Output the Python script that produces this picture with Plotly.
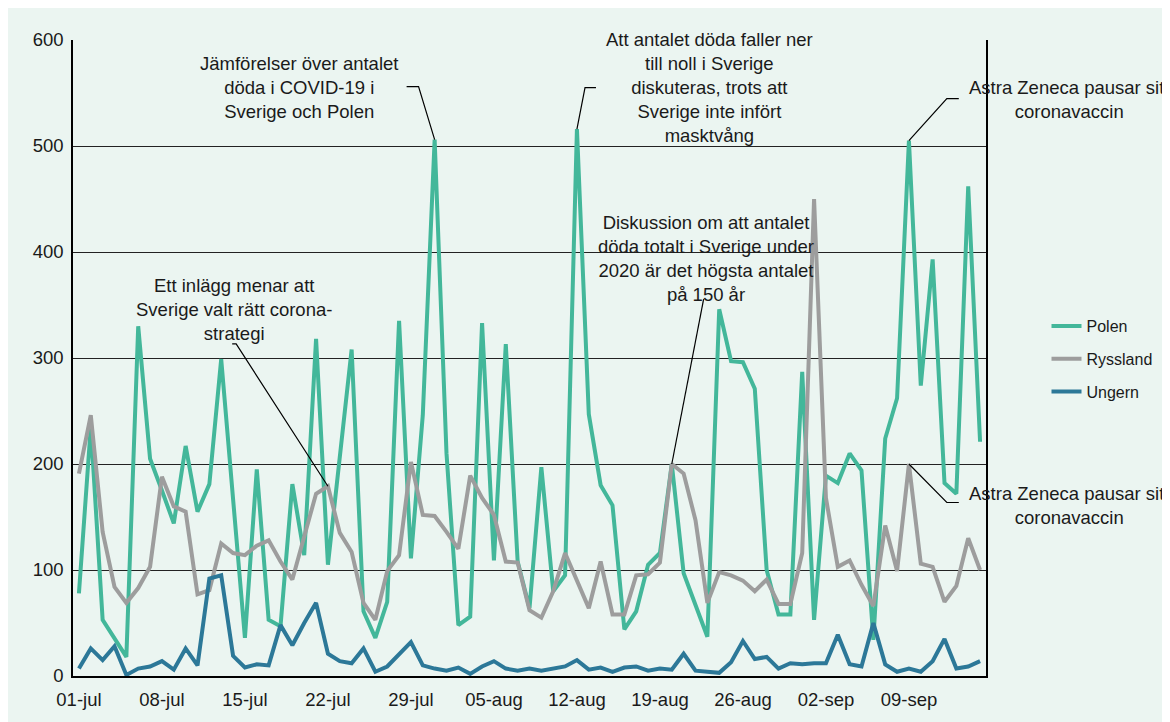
import pandas as pd
import plotly.graph_objects as go

# ---- data ----
dates = pd.date_range("2020-07-01", "2020-09-15", freq="D")
categories = [f"{d.day:02d}-{d.strftime('%b').lower()}" for d in dates]
tick_labels = ["01-jul", "08-jul", "15-jul", "22-jul", "29-jul", "05-aug",
               "12-aug", "19-aug", "26-aug", "02-sep", "09-sep"]
y_ticks = [0, 100, 200, 300, 400, 500, 600]

polen = [78, 235, 53, 36, 18, 330, 205, 175, 144, 217, 155, 181, 299, 167, 36, 195,
         53, 47, 181, 114, 318, 105, 205, 308, 61, 36, 70, 335, 111, 246, 506, 210,
         48, 56, 333, 109, 313, 108, 64, 197, 80, 95, 516, 247, 180, 161, 44, 61,
         105, 116, 200, 97, 67, 37, 346, 297, 296, 271, 100, 58, 58, 287, 53, 189,
         182, 210, 194, 34, 224, 262, 505, 274, 393, 182, 172, 462, 221]
ryssland = [191, 246, 136, 84, 69, 83, 103, 188, 160, 155, 77, 81, 125, 116, 114, 123,
            128, 108, 91, 132, 172, 179, 135, 117, 69, 53, 99, 114, 202, 152, 151, 136,
            120, 189, 168, 152, 108, 107, 62, 55, 80, 116, 91, 64, 108, 58, 58, 95,
            96, 107, 200, 191, 147, 69, 98, 95, 90, 80, 91, 68, 68, 116, 450, 168,
            103, 109, 86, 66, 142, 99, 200, 106, 103, 70, 85, 130, 100]
ungern = [7, 26, 15, 28, 1, 7, 9, 14, 6, 26, 10, 92, 95, 19, 8, 11,
          10, 48, 29, 50, 69, 21, 14, 12, 26, 4, 9, 20, 32, 10, 7, 5,
          8, 2, 9, 14, 7, 5, 7, 5, 7, 9, 15, 6, 8, 4, 8, 9,
          5, 7, 6, 21, 5, 4, 3, 13, 33, 16, 18, 7, 12, 11, 12, 12,
          39, 11, 9, 50, 11, 4, 7, 4, 14, 35, 7, 9, 14]

series = [("Polen", polen, "#43B79A"),
          ("Ryssland", ryssland, "#9D9D9D"),
          ("Ungern", ungern, "#2C7898")]

# ---- layout geometry (page is offset by the 8px body margin) ----
OFF = 8
W, H = 1170 - OFF, 722 - OFF
PL, PR, PT, PB = 73.3, 989.3, 40.2, 678.0     # plot box in page pixels
ML, MR, MT, MB = PL - OFF, W - (PR - OFF), PT - OFF, H - (PB - OFF)
PW, PH = PR - PL, PB - PT
n = len(categories)
xs = list(range(n))
XR = [-0.5, n - 0.5]
YR = [0, 600]
BG = "#EBF5F1"
TXT = "#1A1A1A"
FONT = "Liberation Sans, Arial, sans-serif"


def px2x(px):
    return XR[0] + (px - PL) / PW * (XR[1] - XR[0])


def py2y(py):
    return YR[0] + (PB - py) / PH * (YR[1] - YR[0])


def px2paper(px, py):
    return (px - PL) / PW, (PB - py) / PH


fig = go.Figure()
for name, vals, col in series:
    fig.add_trace(go.Scatter(x=xs, y=vals, mode="lines", name=name,
                             legendgroup=name,
                             line=dict(color=col, width=4),
                             hoverinfo="skip"))

# annotations: (text, series values, index, text centre px, leader via pixels)
notes = [
    ("Jämförelser över antalet<br>döda i COVID-19 i<br>Sverige och Polen",
     polen, 30, (300, 88), [(420, 87), (408, 87)]),
    ("Att antalet döda faller ner<br>till noll i Sverige<br>diskuteras, trots att<br>Sverige inte infört<br>masktvång",
     polen, 42, (712, 88), [(587, 88), (598, 88)]),
    ("Diskussion om att antalet<br>döda totalt i Sverige under<br>2020 är det högsta antalet<br>på 150 år",
     ryssland, 50, (708, 259), [(706, 300)]),
    ("Ett inlägg menar att<br>Sverige valt rätt corona-<br>strategi",
     ryssland, 21, (235, 310), [(237, 345), (233, 345)]),
    ("Astra Zeneca pausar sitt<br>coronavaccin",
     polen, 70, (1073, 100), [(950, 99), (962, 99)]),
    ("Astra Zeneca pausar sitt<br>coronavaccin",
     ryssland, 70, (1073, 507), [(950, 504), (962, 504)]),
]

annotations = []
shapes = []
for text, vals, idx, (tx, ty), leader in notes:
    pxp, pyp = px2paper(tx, ty)
    annotations.append(dict(text=text, xref="paper", yref="paper", x=pxp, y=pyp,
                            xanchor="center", yanchor="middle", showarrow=False,
                            align="center",
                            font=dict(family=FONT, size=18.5, color=TXT)))
    path = f"M {xs[idx]},{vals[idx]}"
    for (lx, ly) in leader:
        path += f" L {px2x(lx)},{py2y(ly)}"
    shapes.append(dict(type="path", xref="x", yref="y", path=path,
                       line=dict(color="#000000", width=1.2), layer="above"))

fig.update_layout(
    width=W, height=H, autosize=False,
    margin=dict(l=ML, r=MR, t=MT, b=MB, pad=0),
    paper_bgcolor=BG, plot_bgcolor=BG,
    font=dict(family=FONT, size=18.5, color=TXT),
    showlegend=True,
    legend=dict(x=px2paper(1050, 0)[0], y=px2paper(0, 310)[1],
                xanchor="left", yanchor="top",
                bgcolor="rgba(0,0,0,0)", font=dict(size=16, color=TXT),
                traceorder="grouped", tracegroupgap=9),
    annotations=annotations,
    shapes=shapes,
    xaxis=dict(range=XR, tickvals=[xs[categories.index(t)] for t in tick_labels],
               ticktext=tick_labels, showgrid=False, zeroline=False,
               showline=True, linecolor="#000000", linewidth=2,
               ticks="outside", ticklen=6, tickcolor="rgba(0,0,0,0)",
               tickfont=dict(size=18.5, color=TXT)),
    yaxis=dict(range=YR, tickvals=y_ticks, showgrid=True, gridcolor="#222222",
               gridwidth=1, zeroline=False, showline=True, linecolor="#000000",
               linewidth=1.5, mirror=True, ticks="outside", ticklen=4,
               tickcolor="rgba(0,0,0,0)", tickfont=dict(size=18.5, color=TXT)),
)

fig.write_html("out.html")
